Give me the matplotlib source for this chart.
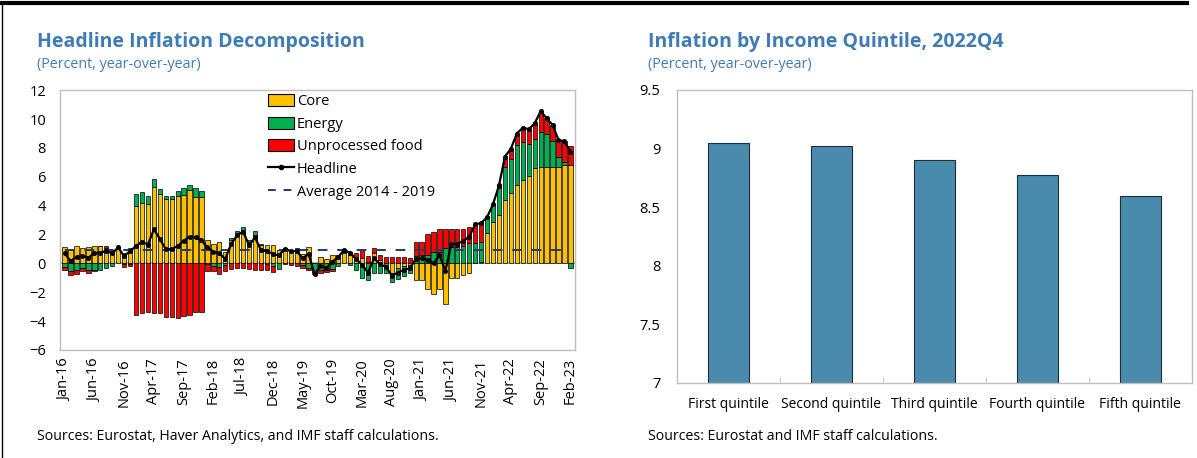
import numpy as np
import matplotlib.pyplot as plt
from matplotlib.lines import Line2D

plt.rcParams['font.family'] = ['Open Sans', 'DejaVu Sans']

# --- Left panel data: monthly contributions, Jan-16 .. Feb-23 ---
months = ['Jan-16', 'Jun-16', 'Nov-16', 'Apr-17', 'Sep-17', 'Feb-18', 'Jul-18', 'Dec-18',
          'May-19', 'Oct-19', 'Mar-20', 'Aug-20', 'Jan-21', 'Jun-21', 'Nov-21', 'Apr-22',
          'Sep-22', 'Feb-23']  # every 5th month label

core = [1.15, 0.9, 1.2, 1.05, 1.1, 1.2, 1.2, 1.05, 0.9, 1.0, 0.75, 1.05,
        3.97, 4.16, 4.09, 5.31, 4.78, 4.46, 4.46, 4.64, 4.71, 5.08, 4.62, 4.57,
        1.65, 1.35, 1.45, 0.8, 1.6, 1.95, 2.3, 1.5, 1.95, 1.25, 1.3, 1.25,
        0.95, 0.9, 0.95, 0.95, 0.65, 1.1, 0.0, 0.45, 0.3, 0.6, 0.55, 0.75,
        0.55, 0.4, 0.4, 0.1, 0.7, 0.2, 0.0, -0.65, -0.3, -0.2, -0.1, -1.15,
        -1.15, -1.75, -2.15, -1.8, -2.85, -1.0, -1.0, -0.8, -0.65, 0.0, 0.1, 2.1,
        2.9, 3.35, 4.4, 4.85, 5.45, 5.75, 6.05, 6.6, 6.7, 6.7, 6.65, 6.7,
        6.8, 6.85]
energy = [-0.25, -0.5, -0.45, -0.35, -0.45, -0.45, -0.45, -0.35, -0.2, 0.05, -0.05, -0.05,
          0.81, 0.81, 0.6, 0.51, 0.39, 0.21, 0.23, 0.36, 0.49, 0.35, 0.58, 0.43,
          -0.05, -0.15, -0.25, -0.1, 0.15, 0.3, 0.25, 0.15, 0.3, 0.1, -0.05, -0.15,
          -0.4, 0.15, 0.0, 0.1, -0.1, -0.35, -0.6, -0.45, -0.45, -0.4, -0.15, 0.15,
          -0.1, -0.45, -1.0, -1.15, -0.7, -0.65, -0.65, -0.62, -0.8, -0.7, -0.6, 0.5,
          0.55, 0.6, 0.8, 0.8, 1.05, 1.1, 1.15, 1.2, 1.4, 1.4, 1.4, 1.1,
          1.2, 1.9, 2.3, 2.35, 2.75, 2.65, 2.25, 2.0, 2.4, 2.25, 1.85, 0.65,
          0.25, -0.35]
food = [-0.2, -0.3, -0.3, -0.2, -0.25, -0.05, 0.0, 0.15, 0.0, 0.05, -0.2, -0.15,
        -3.58, -3.46, -3.4, -3.46, -3.46, -3.7, -3.7, -3.81, -3.63, -3.58, -3.4, -3.4,
        -0.5, -0.4, -0.5, -0.4, -0.4, -0.3, -0.35, -0.4, -0.45, -0.45, -0.4, -0.45,
        0.0, -0.05, -0.1, -0.2, -0.2, -0.1, -0.15, -0.2, -0.15, -0.1, 0.05, 0.05,
        0.25, 0.35, 0.5, 0.4, 0.35, 0.4, 0.42, 0.42, 0.46, 0.45, 0.35, 0.95,
        0.95, 1.4, 1.35, 1.55, 1.3, 1.25, 1.2, 1.15, 1.1, 1.3, 1.3, 0.0,
        0.0, 0.15, 0.7, 0.75, 0.8, 1.0, 1.0, 1.1, 1.45, 1.1, 1.1, 1.2,
        1.4, 1.25]
headline = [0.7, 0.15, 0.45, 0.5, 0.4, 0.7, 0.75, 0.85, 0.7, 1.1, 0.5, 0.85,
            1.2, 1.5, 1.3, 2.36, 1.7, 0.97, 1.0, 1.2, 1.57, 1.85, 1.8, 1.6,
            1.1, 0.8, 0.7, 0.3, 1.35, 1.95, 2.2, 1.25, 1.8, 0.9, 0.85, 0.65,
            0.55, 1.0, 0.85, 0.85, 0.35, 0.65, -0.75, -0.2, -0.3, 0.1, 0.45, 0.95,
            0.7, 0.3, -0.1, -0.65, 0.35, -0.05, -0.25, -0.85, -0.65, -0.45, -0.35, 0.3,
            0.35, 0.25, 0.0, 0.55, -0.5, 1.35, 1.35, 1.55, 1.85, 2.7, 2.8, 3.2,
            4.1, 5.4, 7.4, 7.95, 9.0, 9.4, 9.3, 9.7, 10.55, 10.05, 9.6, 8.55,
            8.45, 7.75]
avg_2014_2019 = 0.9

# --- Right panel data ---
quintiles = ['First quintile', 'Second quintile', 'Third quintile', 'Fourth quintile', 'Fifth quintile']
quintile_infl = [9.05, 9.02, 8.90, 8.77, 8.59]

title_blue = '#3F7CB6'
frame_grey = '#BFBFBF'

fig = plt.figure(figsize=(11.97, 4.58), dpi=100)

# ---------------- left panel ----------------
ax = fig.add_axes([0.050, 0.236, 0.430, 0.567])
x = np.arange(len(core))
pos_base = np.zeros(len(x))
neg_base = np.zeros(len(x))
for vals, col, lab in [(core, '#FFC000', 'Core'), (energy, '#00B050', 'Energy'),
                       (food, '#FF0000', 'Unprocessed food')]:
    v = np.array(vals)
    base = np.where(v >= 0, pos_base, neg_base)
    ax.bar(x, v, bottom=base, width=0.72, color=col, edgecolor='black', linewidth=0.5,
           label=lab, zorder=2)
    pos_base = pos_base + np.where(v >= 0, v, 0)
    neg_base = neg_base + np.where(v < 0, v, 0)

ax.axhline(0, color='#A6A6A6', lw=1.2, zorder=1)
ax.plot(x, headline, color='black', lw=1.6, marker='o', ms=2.6, zorder=4, label='Headline')
ax.plot(x, [avg_2014_2019] * len(x), color='#1F3B73', lw=1.4, ls=(0, (5, 5)), zorder=3,
        label='Average 2014 - 2019')

ax.set_xlim(-0.8, len(x) - 0.3)
ax.set_ylim(-6, 12)
ax.set_yticks(range(-6, 13, 2))
ax.set_xticks(x[::5])
ax.set_xticklabels(months, rotation=90, fontsize=10.5)
ax.tick_params(axis='x', length=0, pad=6)
ax.tick_params(axis='y', length=0, labelsize=10.5, pad=10)
for s in ax.spines.values():
    s.set_color(frame_grey)
    s.set_linewidth(1)

handles = [plt.Rectangle((0, 0), 1, 1, fc='#FFC000', ec='black', lw=0.8),
           plt.Rectangle((0, 0), 1, 1, fc='#00B050', ec='black', lw=0.8),
           plt.Rectangle((0, 0), 1, 1, fc='#FF0000', ec='black', lw=0.8),
           Line2D([], [], color='black', lw=1.6, marker='o', ms=3),
           Line2D([], [], color='#1F3B73', lw=1.4, ls=(0, (4, 4)))]
ax.legend(handles, ['Core', 'Energy', 'Unprocessed food', 'Headline', 'Average 2014 - 2019'],
          loc='upper left', bbox_to_anchor=(0.385, 1.025), frameon=False, fontsize=10.5,
          handlelength=1.8, handleheight=0.9, handletextpad=0.15, labelspacing=0.52,
          borderpad=0.2)

fig.text(0.031, 0.908, 'Headline Inflation Decomposition', fontsize=14, fontweight='bold',
         color=title_blue, va='center')
fig.text(0.031, 0.860, '(Percent, year-over-year)', fontsize=10.3, color=title_blue, va='center')
fig.text(0.031, 0.046, 'Sources: Eurostat, Haver Analytics, and IMF staff calculations.',
         fontsize=10.2, va='center')

# ---------------- right panel ----------------
ax2 = fig.add_axes([0.5656, 0.164, 0.430, 0.640])
xq = np.arange(len(quintiles))
ax2.bar(xq, quintile_infl, width=0.4, color='#4A8AAD', edgecolor='#1F2F3A', linewidth=0.8,
        zorder=2)
ax2.set_ylim(7, 9.5)
ax2.set_yticks([7, 7.5, 8, 8.5, 9, 9.5])
ax2.set_yticklabels(['7', '7.5', '8', '8.5', '9', '9.5'])
ax2.set_xlim(-0.5, len(quintiles) - 0.5)
ax2.set_xticks(xq)
ax2.set_xticklabels(quintiles, fontsize=10)
ax2.set_xticks(np.arange(0.5, len(quintiles) - 0.5, 1), minor=True)
ax2.tick_params(axis='x', which='major', length=0, pad=10)
ax2.tick_params(axis='x', which='minor', length=4, direction='in', color=frame_grey)
ax2.tick_params(axis='y', length=0, labelsize=10.5, pad=12)
for s in ax2.spines.values():
    s.set_color(frame_grey)
    s.set_linewidth(1)

fig.text(0.541, 0.908, 'Inflation by Income Quintile, 2022Q4', fontsize=14, fontweight='bold',
         color=title_blue, va='center')
fig.text(0.541, 0.860, '(Percent, year-over-year)', fontsize=10.3, color=title_blue, va='center')
fig.text(0.541, 0.046, 'Sources: Eurostat and IMF staff calculations.', fontsize=10.2, va='center')

# outer frame: thick top rule, thin left rule
fig.add_artist(Line2D([0, 0.992], [0.994, 0.994], color='black', lw=3, transform=fig.transFigure))
fig.add_artist(Line2D([0.002, 0.002], [0, 0.994], color='black', lw=1, transform=fig.transFigure))

fig.savefig('out.png', dpi=100)
